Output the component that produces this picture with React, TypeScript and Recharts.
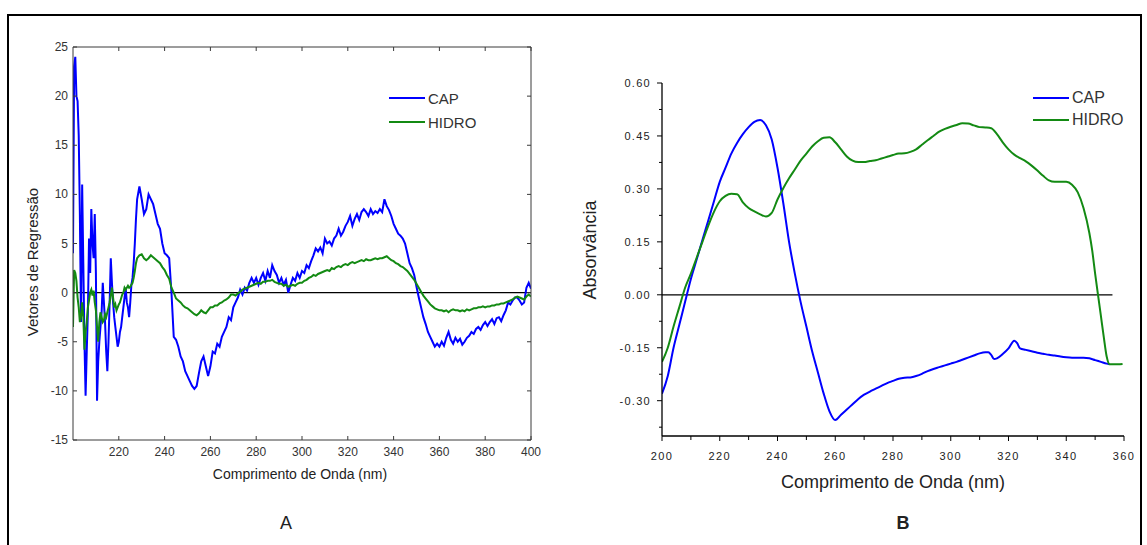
import { LineChart, Line, XAxis, YAxis, ReferenceLine } from "recharts";

const FONT = "'Liberation Sans', Arial, sans-serif";
const BLUE = "#0000ff";
const GREEN = "#138a13";

// ---- panel A: regression vectors (wavelength grid shared by both series)
const aNm = [
  200, 200.5, 201, 201.5, 202, 202.5, 203, 203.5, 204, 204.5,
  205, 205.5, 206, 206.5, 207, 207.5, 208, 208.5, 209, 209.5,
  210, 210.5, 211, 211.5, 212, 212.5, 213, 213.5, 214, 214.5,
  215, 215.5, 216, 216.5, 217, 217.5, 218, 218.5, 219, 219.5,
  220, 220.5, 221, 221.5, 222, 222.5, 223, 223.5, 224, 224.5,
  225, 225.5, 226, 226.5, 227, 227.5,
  228, 229, 230, 231, 232, 233, 234, 235, 236, 237,
  238, 239, 240, 241, 242, 243, 244, 245, 246, 247,
  248, 249, 250, 251, 252, 253, 254, 255, 256, 257,
  258, 259, 260, 261, 262, 263, 264, 265, 266, 267,
  268, 269, 270, 271, 272, 273, 274, 275, 276, 277,
  278, 279, 280, 281, 282, 283, 284, 285, 286, 287,
  288, 289, 290, 291, 292, 293, 294, 295, 296, 297,
  298, 299, 300, 301, 302, 303, 304, 305, 306, 307,
  308, 309, 310, 311, 312, 313, 314, 315, 316, 317,
  318, 319, 320, 321, 322, 323, 324, 325, 326, 327,
  328, 329, 330, 331, 332, 333, 334, 335, 336, 337,
  338, 339, 340, 341, 342, 343, 344, 345, 346, 347,
  348, 349, 350, 351, 352, 353, 354, 355, 356, 357,
  358, 359, 360, 361, 362, 363, 364, 365, 366, 367,
  368, 369, 370, 371, 372, 373, 374, 375, 376, 377,
  378, 379, 380, 381, 382, 383, 384, 385, 386, 387,
  388, 389, 390, 391, 392, 393, 394, 395, 396, 397,
  398, 399, 400,
];

const aCap = [
  4, 23, 24, 20, 19.5, 16, 8, -3, 11, 3,
  -5, -10.5, -6, -2, 5.5, 2, 8.5, 5, 3.5, 8,
  2, -11, -7, -5, -3.5, -2, 1, -1, -3, -6,
  -8, -5, -1, 3.5, 1, -1, -2.5, -3.5, -4.5, -5.5,
  -5, -4, -3.5, -2.5, -1.5, -0.5, 0.5, -1, -1.5, -2.5,
  -1, 0.8, 1.5, 3, 5, 7.5,
  9.5, 10.8, 9.5, 8, 8.5, 10, 9.5, 9, 8, 7,
  6.5, 5, 4, 3.8, 3.5, 0, -4.5, -4.8, -5.5, -6.5,
  -7, -8, -8.5, -9, -9.5, -9.8, -9.5, -8.2, -7, -6.5,
  -7.5, -8.5, -7.5, -6, -6.2, -5.2, -5.5, -4.5, -4, -3.5,
  -2.5, -2.8, -1.5, -1, -0.5, 0.3, -0.2, 0.5, 0.2, 1,
  1.5, 1, 1.5, 0.8, 1.5, 2, 1.2, 2.2, 1.5, 2.8,
  2.2, 1.8, 1, 1.5, 0.8, 1.3, 0, 0.8, 1.5, 1.2,
  2, 1.5, 2.2, 2, 2.8, 2.5, 3.2, 3.8, 4.5, 4.2,
  4.6, 4, 5.5, 5, 5.2, 4.8, 5.5, 5.8, 6.5, 5.8,
  6.2, 6.8, 7.2, 7.8, 6.8, 7.5, 8, 7.4, 8.2, 8.5,
  8.2, 7.8, 8.5, 8, 8.3, 8.1, 8.5, 8.2, 9.5, 8.8,
  8.4, 7.8, 7, 6.5, 6, 5.8, 5.5, 5, 4, 3,
  2.5, 1.8, 0.6, -0.5, -1.5, -2.5, -3.2, -4, -4.5, -5,
  -5.5, -5.2, -5.5, -5, -5.4, -4.6, -4, -4.8, -5.2, -4.6,
  -5, -4.7, -5.3, -5, -4.6, -4.4, -4, -4.2, -3.7, -3.5,
  -3.8, -3.3, -3, -3.4, -3, -2.7, -3.2, -2.6, -2.5, -2.9,
  -2.3, -1.8, -1, -1.2, -0.8, -0.5, -0.5, -0.8, -1.2, -1,
  0.5, 1, 0.4,
];

const aHidro = [
  -3.5, 2.3, 2, 1.2, -0.5, -1.5, -3, -2.5, -1, -2.5,
  -5.8, -4, -3, -1.5, -0.8, 0, 0.3, -0.3, 0.2, -1,
  -1.8, -3.5, -5, -3, -2, -2.5, -3, -2.8, -2.2, -2.5,
  -2, -1.5, -1, -0.3, 0.5, -0.5, -1.5, -1.2, -1.8, -1.5,
  -1.2, -1, -0.6, -0.2, 0, 0.5, 0.3, 0.5, 0.7, 0.5,
  0.6, 0.8, 1, 1.5, 2.2, 3,
  3.5, 3.8, 3.9, 3.5, 3.3, 3.5, 3.8, 3.6, 3.4, 3.2,
  3, 2.6, 2.3, 1.8, 1.4, 0.5, 0, -0.6, -0.8, -1,
  -1.3, -1.5, -1.6, -1.8, -2, -2.2, -2.3, -2.1, -1.8, -2,
  -2.1, -1.8, -1.5, -1.5, -1.3, -1.3, -1.1, -1, -0.8, -0.7,
  -0.5, -0.2, -0.2, -0.3, -0.1, 0.1, 0.3, 0.4, 0.5, 0.6,
  0.7, 0.8, 0.9, 1, 0.9, 1.1, 1.1, 1.2, 1.2, 1.3,
  1.1, 1, 0.9, 0.9, 0.7, 0.8, 0.6, 0.7, 0.8, 0.7,
  0.9, 1, 1, 1.2, 1.3, 1.5, 1.6, 1.8, 1.7, 1.9,
  2, 2.1, 2.2, 2.3, 2.2, 2.5, 2.4, 2.6, 2.7, 2.6,
  2.8, 2.9, 2.8, 3, 3.1, 3, 3.1, 3.2, 3.3, 3.2,
  3.4, 3.3, 3.3, 3.4, 3.5, 3.4, 3.5, 3.5, 3.6, 3.7,
  3.5, 3.3, 3.2, 3, 2.9, 2.7, 2.6, 2.4, 2.2, 1.9,
  1.6, 1.3, 0.9, 0.5, 0.1, -0.3, -0.6, -0.9, -1.2, -1.4,
  -1.6, -1.7, -1.8, -1.8, -1.9, -1.8, -2, -1.8, -1.7, -1.8,
  -1.8, -1.9, -1.8, -1.9, -1.7, -1.8, -1.7, -1.6, -1.6, -1.5,
  -1.5, -1.4, -1.5, -1.4, -1.4, -1.3, -1.3, -1.2, -1.2, -1.1,
  -1.1, -1, -0.9, -0.8, -0.7, -0.5, -0.4, -0.5, -0.6, -0.7,
  -0.4, -0.2, -0.4,
];

const aXTicks = [220, 240, 260, 280, 300, 320, 340, 360, 380, 400];
const aYTicks = [-15, -10, -5, 0, 5, 10, 15, 20, 25];

// ---- panel B: absorbance spectra
const bCapNm = [
  200, 202, 204, 206, 208, 210, 212, 214, 216, 218,
  220, 222, 224, 226, 228, 230, 232, 234, 236, 238,
  240, 242, 244, 246, 248, 250, 252, 254, 256, 258,
  260, 262, 264, 266, 268, 270, 272, 274, 276, 278,
  280, 282, 284, 286, 288, 290, 292, 294, 296, 298,
  300, 302, 304, 306, 308, 310, 312, 313, 314, 315,
  316, 318, 320, 322, 323, 324, 326, 328, 330, 332,
  334, 336, 338, 340, 342, 344, 346, 348, 350, 352,
  354, 355,
];
const bCap = [
  -0.28, -0.23, -0.15, -0.085, -0.02, 0.045, 0.1, 0.155, 0.21, 0.265,
  0.32, 0.36, 0.4, 0.43, 0.455, 0.475, 0.49, 0.495, 0.48, 0.44,
  0.36, 0.26, 0.15, 0.06, -0.02, -0.09, -0.16, -0.22, -0.28, -0.33,
  -0.355, -0.34, -0.325, -0.31, -0.295, -0.283, -0.274, -0.266, -0.258, -0.25,
  -0.244, -0.238, -0.235, -0.234, -0.23, -0.224, -0.216, -0.21, -0.205, -0.2,
  -0.195, -0.19, -0.184, -0.178, -0.172, -0.166, -0.163, -0.163, -0.17, -0.182,
  -0.18, -0.168, -0.152, -0.13, -0.137, -0.152, -0.156, -0.16, -0.164, -0.167,
  -0.17, -0.172, -0.175, -0.177, -0.178, -0.178, -0.178, -0.18, -0.185, -0.19,
  -0.195, -0.197,
];

const bHidroNm = [
  200, 202, 204, 206, 208, 210, 212, 214, 216, 218,
  220, 222, 224, 226, 228, 230, 232, 234, 236, 238,
  240, 242, 244, 246, 248, 250, 252, 254, 256, 258,
  260, 262, 264, 266, 268, 270, 272, 274, 276, 278,
  280, 282, 284, 286, 288, 290, 292, 294, 296, 298,
  300, 302, 304, 306, 308, 310, 312, 314, 316, 318,
  320, 322, 324, 326, 328, 330, 332, 334, 336, 338,
  340, 342, 344, 346, 348, 349, 350, 351, 352, 353,
  354, 355, 356, 358, 359.5,
];
const bHidro = [
  -0.19, -0.15, -0.09, -0.035, 0.02, 0.06, 0.105, 0.15, 0.195, 0.235,
  0.265, 0.28, 0.286, 0.285, 0.262, 0.246, 0.236, 0.228, 0.222, 0.232,
  0.27, 0.302, 0.33, 0.355, 0.38, 0.4, 0.42, 0.435, 0.445, 0.446,
  0.432, 0.412, 0.392, 0.38, 0.376, 0.376, 0.379, 0.381, 0.386, 0.391,
  0.396, 0.4, 0.401, 0.405, 0.412, 0.425, 0.438, 0.45, 0.462, 0.47,
  0.476, 0.481, 0.486, 0.485, 0.48, 0.475, 0.474, 0.472, 0.455, 0.432,
  0.412, 0.397, 0.387, 0.378, 0.366, 0.352, 0.337, 0.324, 0.32, 0.32,
  0.32, 0.312, 0.29, 0.245, 0.175, 0.125, 0.06, 0, -0.06, -0.12,
  -0.175, -0.197, -0.197, -0.197, -0.196,
];

const bXMajor = [200, 220, 240, 260, 280, 300, 320, 340, 360];
const bXMinor = [210, 230, 250, 270, 290, 310, 330, 350];
const bYMajor = [-0.3, -0.15, 0, 0.15, 0.3, 0.45, 0.6];
const bYMinor = [-0.375, -0.225, -0.075, 0.075, 0.225, 0.375, 0.525];

const aData = aNm.map((nm, i) => ({ nm, cap: aCap[i], hidro: aHidro[i] }));
const bCapData = bCapNm.map((nm, i) => ({ nm, v: bCap[i] }));
const bHidroData = bHidroNm.map((nm, i) => ({ nm, v: bHidro[i] }));

// ---- ticks (tickSize/tickMargin are 0 so x/y arrive on the axis line)
const AX = "#3a3a3a";

function ABottomTick({ x, y, payload }: any) {
  return (
    <g>
      <line x1={x} x2={x} y1={y} y2={y - 4} stroke={AX} />
      <text x={x} y={y + 16} textAnchor="middle" fontSize={12} fill="#333" fontFamily={FONT}>
        {payload.value}
      </text>
    </g>
  );
}

function ALeftTick({ x, y, payload }: any) {
  return (
    <g>
      <line x1={x} x2={x + 4} y1={y} y2={y} stroke={AX} />
      <text x={x - 5} y={y + 4} textAnchor="end" fontSize={12} fill="#333" fontFamily={FONT}>
        {payload.value}
      </text>
    </g>
  );
}

function ATopTick({ x, y }: any) {
  return <line x1={x} x2={x} y1={y} y2={y + 4} stroke={AX} />;
}

function ARightTick({ x, y }: any) {
  return <line x1={x - 4} x2={x} y1={y} y2={y} stroke={AX} />;
}

function BBottomTick({ x, y, payload }: any) {
  const major = bXMajor.includes(payload.value);
  return (
    <g>
      <line x1={x} x2={x} y1={y} y2={y + (major ? 5 : 4)} stroke="#000" />
      {major && (
        <text x={x} y={y + 24} textAnchor="middle" fontSize={11} letterSpacing={1.3} fill="#222" fontFamily={FONT}>
          {payload.value}
        </text>
      )}
    </g>
  );
}

function BLeftTick({ x, y, payload }: any) {
  const major = bYMajor.includes(payload.value);
  return (
    <g>
      <line x1={x - (major ? 5 : 3)} x2={x} y1={y} y2={y} stroke="#000" />
      {major && (
        <text x={x - 11} y={y + 4} textAnchor="end" fontSize={11} letterSpacing={1.3} fill="#222" fontFamily={FONT}>
          {payload.value.toFixed(2)}
        </text>
      )}
    </g>
  );
}

function Txt({ x, y, size, children, rotate, weight }: any) {
  return (
    <div
      style={{
        position: "absolute",
        left: x,
        top: y,
        transform: `translate(-50%, -50%)${rotate ? " rotate(-90deg)" : ""}`,
        fontFamily: FONT,
        fontSize: size,
        fontWeight: weight ?? 400,
        color: "#222",
        whiteSpace: "nowrap",
        lineHeight: 1,
      }}
    >
      {children}
    </div>
  );
}

function LegendRow({ x, y, color, label, size }: any) {
  return (
    <div style={{ position: "absolute", left: x, top: y - 10, height: 20, display: "flex", alignItems: "center" }}>
      <div style={{ width: 36, height: 2, background: color }} />
      <span style={{ marginLeft: 3, fontFamily: FONT, fontSize: size, color: "#333" }}>{label}</span>
    </div>
  );
}

// axes need a positive size to render; 1px each, taken back from the margins
export default function App() {
  return (
    <div style={{ position: "relative", width: 1147, height: 545, background: "#fff", overflow: "hidden" }}>
      <style>{"body{margin:0}"}</style>
      <div
        style={{
          position: "absolute",
          left: 7,
          top: 14,
          width: 1131,
          height: 560,
          borderTop: "2px solid #000",
          borderLeft: "2px solid #000",
          borderRight: "2px solid #000",
        }}
      />

      {/* panel A */}
      <div style={{ position: "absolute", left: 0, top: 0 }}>
        <LineChart width={580} height={545} data={aData} margin={{ top: 46, right: 48, bottom: 104, left: 72 }}>
          <XAxis
            dataKey="nm"
            type="number"
            domain={[200, 400]}
            ticks={aXTicks}
            interval={0}
            allowDataOverflow
            height={1}
            tickSize={0}
            tickMargin={0}
            tickLine={false}
            axisLine={{ stroke: AX }}
            tick={ABottomTick}
          />
          <XAxis
            xAxisId="top"
            dataKey="nm"
            orientation="top"
            type="number"
            domain={[200, 400]}
            ticks={aXTicks}
            interval={0}
            allowDataOverflow
            height={1}
            tickSize={0}
            tickMargin={0}
            tickLine={false}
            axisLine={{ stroke: AX }}
            tick={ATopTick}
          />
          <YAxis
            type="number"
            domain={[-15, 25]}
            ticks={aYTicks}
            interval={0}
            allowDataOverflow
            width={1}
            tickSize={0}
            tickMargin={0}
            tickLine={false}
            axisLine={{ stroke: AX }}
            tick={ALeftTick}
          />
          <YAxis
            yAxisId="right"
            orientation="right"
            type="number"
            domain={[-15, 25]}
            ticks={aYTicks}
            interval={0}
            allowDataOverflow
            width={1}
            tickSize={0}
            tickMargin={0}
            tickLine={false}
            axisLine={{ stroke: AX }}
            tick={ARightTick}
          />
          <ReferenceLine y={0} stroke="#000" strokeWidth={1.3} />
          <Line dataKey="cap" type="linear" stroke={BLUE} strokeWidth={2} dot={false} isAnimationActive={false} />
          <Line dataKey="hidro" type="linear" stroke={GREEN} strokeWidth={2} dot={false} isAnimationActive={false} />
          {/* invisible copy so the mirrored top/right frame axes get a domain */}
          <Line
            xAxisId="top"
            yAxisId="right"
            dataKey="hidro"
            stroke="none"
            dot={false}
            activeDot={false}
            legendType="none"
            isAnimationActive={false}
          />
        </LineChart>
      </div>
      <LegendRow x={389} y={98} color={BLUE} label="CAP" size={15} />
      <LegendRow x={389} y={122} color={GREEN} label="HIDRO" size={15} />
      <Txt x={32} y={262} size={15} rotate>
        Vetores de Regressão
      </Txt>
      <Txt x={300} y={474} size={14}>
        Comprimento de Onda (nm)
      </Txt>
      <Txt x={286} y={523} size={18}>
        A
      </Txt>

      {/* panel B */}
      <div style={{ position: "absolute", left: 580, top: 0 }}>
        <LineChart width={567} height={545} margin={{ top: 83, right: 23, bottom: 108, left: 81 }}>
          <XAxis
            dataKey="nm"
            type="number"
            domain={[200, 360]}
            ticks={[...bXMajor, ...bXMinor].sort((p, q) => p - q)}
            interval={0}
            allowDataOverflow
            height={1}
            tickSize={0}
            tickMargin={0}
            tickLine={false}
            axisLine={{ stroke: "#000", strokeWidth: 1.3 }}
            tick={BBottomTick}
          />
          <YAxis
            type="number"
            domain={[-0.4, 0.6]}
            ticks={[...bYMajor, ...bYMinor].sort((p, q) => p - q)}
            interval={0}
            allowDataOverflow
            width={1}
            tickSize={0}
            tickMargin={0}
            tickLine={false}
            axisLine={{ stroke: "#000", strokeWidth: 1.3 }}
            tick={BLeftTick}
          />
          <ReferenceLine
            segment={[
              { x: 200, y: 0 },
              { x: 356, y: 0 },
            ]}
            stroke="#000"
            strokeWidth={1.2}
          />
          <Line data={bCapData} dataKey="v" type="monotone" stroke={BLUE} strokeWidth={2} dot={false} isAnimationActive={false} />
          <Line data={bHidroData} dataKey="v" type="monotone" stroke={GREEN} strokeWidth={2} dot={false} isAnimationActive={false} />
        </LineChart>
      </div>
      <LegendRow x={1033} y={98} color={BLUE} label="CAP" size={16} />
      <LegendRow x={1033} y={120} color={GREEN} label="HIDRO" size={16} />
      <Txt x={590} y={250} size={18} rotate>
        Absorvância
      </Txt>
      <Txt x={893} y={482} size={18}>
        Comprimento de Onda (nm)
      </Txt>
      <Txt x={903} y={523} size={18} weight={600}>
        B
      </Txt>
    </div>
  );
}
